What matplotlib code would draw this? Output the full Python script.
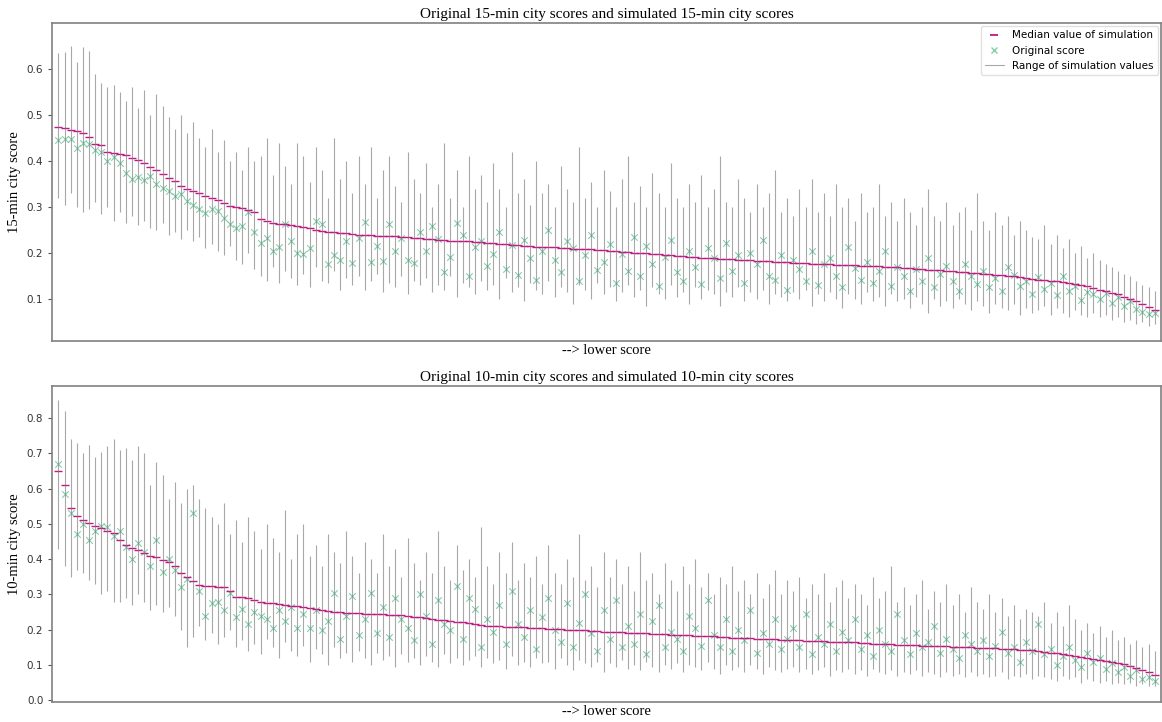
import numpy as np
import matplotlib
matplotlib.use("Agg")
import matplotlib.pyplot as plt
from matplotlib.lines import Line2D

# ---- 15-min panel ----
med15 = [.475,.472,.468,.465,.460,.452,.437,.434,.419,.417,
         .416,.414,.407,.402,.395,.386,.380,.372,.362,.356,
         .346,.340,.334,.330,.324,.320,.315,.309,.302,.300,
         .297,.293,.290,.273,.270,.266,.264,.262,.260,.258,
         .257,.254,.251,.248,.246,.245,.244,.243,.241,.240,
         .240,.239,.238,.237,.236,.236,.235,.234,.233,.232,
         .231,.230,.229,.228,.227,.226,.225,.225,.224,.223,
         .222,.221,.220,.219,.218,.217,.216,.215,.214,.213,
         .212,.212,.211,.210,.209,.209,.208,.208,.207,.206,
         .205,.204,.203,.202,.201,.200,.199,.198,.197,.196,
         .195,.194,.193,.192,.191,.190,.189,.188,.187,.187,
         .186,.185,.184,.184,.183,.182,.182,.181,.180,.180,
         .179,.178,.178,.177,.176,.176,.175,.174,.174,.173,
         .173,.172,.172,.171,.171,.170,.170,.169,.168,.167,
         .166,.165,.164,.163,.162,.161,.160,.159,.158,.157,
         .156,.155,.154,.153,.152,.150,.149,.147,.145,.143,
         .142,.141,.140,.138,.137,.135,.133,.131,.128,.124,
         .120,.117,.114,.110,.104,.100,.095,.088,.082,.076]
orig15 = [.445,.448,.447,.428,.440,.437,.425,.420,.400,.408,
          .395,.375,.360,.365,.358,.368,.350,.342,.335,.325,
          .328,.312,.305,.295,.288,.296,.292,.275,.262,.255,
          .258,.290,.245,.222,.232,.205,.212,.262,.225,.200,
          .198,.210,.270,.262,.175,.195,.185,.225,.178,.232,
          .268,.180,.215,.182,.262,.205,.232,.185,.178,.245,
          .205,.258,.230,.158,.192,.265,.240,.150,.212,.225,
          .172,.198,.245,.165,.218,.152,.228,.190,.142,.205,
          .250,.185,.158,.225,.210,.140,.195,.240,.162,.180,
          .220,.135,.198,.160,.235,.150,.215,.175,.128,.192,
          .228,.158,.140,.205,.170,.132,.210,.188,.145,.222,
          .160,.195,.135,.200,.175,.228,.150,.142,.195,.120,
          .185,.165,.140,.205,.130,.175,.190,.150,.125,.212,
          .168,.142,.180,.135,.160,.205,.128,.170,.150,.118,
          .165,.138,.190,.125,.155,.172,.140,.118,.175,.150,
          .132,.160,.125,.145,.118,.170,.152,.128,.140,.110,
          .148,.122,.135,.108,.150,.118,.128,.098,.115,.110,
          .100,.112,.092,.105,.085,.096,.078,.072,.068,.070]
hi15 = [.635,.637,.650,.615,.648,.640,.590,.570,.560,.565,
        .550,.530,.560,.515,.555,.500,.545,.520,.495,.470,
        .500,.460,.485,.450,.430,.470,.420,.445,.400,.420,
        .380,.430,.400,.410,.450,.370,.440,.390,.350,.440,
        .410,.355,.430,.380,.320,.450,.360,.400,.330,.410,
        .350,.430,.320,.380,.410,.345,.310,.420,.360,.330,
        .395,.300,.350,.440,.320,.380,.300,.410,.340,.370,
        .310,.395,.340,.300,.420,.330,.360,.305,.400,.330,
        .350,.300,.390,.340,.310,.430,.320,.355,.300,.380,
        .335,.300,.360,.410,.310,.345,.300,.375,.330,.300,
        .395,.320,.300,.350,.310,.370,.300,.340,.410,.310,
        .300,.360,.320,.290,.350,.300,.330,.380,.290,.320,
        .280,.340,.300,.360,.290,.330,.280,.350,.300,.320,
        .270,.330,.290,.300,.350,.280,.310,.270,.320,.290,
        .260,.300,.340,.280,.270,.310,.260,.290,.300,.250,
        .330,.270,.250,.290,.260,.280,.240,.270,.250,.235,
        .230,.260,.220,.240,.210,.230,.200,.215,.190,.200,
        .185,.175,.170,.160,.155,.150,.140,.130,.125,.118]
lo15 = [.320,.305,.330,.300,.290,.295,.310,.285,.300,.270,
        .290,.265,.280,.260,.270,.255,.250,.265,.240,.245,
        .230,.250,.225,.235,.210,.220,.205,.195,.215,.185,
        .175,.200,.165,.150,.140,.170,.135,.160,.145,.130,
        .155,.125,.170,.140,.135,.160,.120,.145,.130,.150,
        .120,.140,.155,.115,.135,.125,.150,.110,.140,.130,
        .145,.115,.130,.120,.150,.105,.135,.125,.110,.140,
        .120,.130,.100,.145,.115,.125,.095,.135,.120,.110,
        .140,.105,.125,.115,.090,.130,.120,.100,.135,.110,
        .125,.095,.115,.130,.105,.120,.085,.125,.110,.100,
        .130,.105,.115,.090,.125,.100,.120,.110,.085,.115,
        .105,.125,.095,.115,.100,.120,.090,.110,.105,.095,
        .115,.100,.120,.085,.110,.095,.115,.100,.080,.110,
        .100,.090,.115,.095,.105,.085,.110,.095,.100,.080,
        .105,.090,.070,.100,.085,.095,.080,.100,.090,.075,
        .095,.085,.070,.090,.080,.075,.090,.065,.080,.070,
        .075,.085,.065,.080,.070,.060,.075,.065,.060,.070,
        .060,.065,.055,.060,.050,.055,.045,.050,.042,.045]

# ---- 10-min panel ----
med10 = [.650,.610,.545,.522,.510,.502,.495,.488,.480,.474,
         .455,.440,.432,.425,.418,.410,.405,.398,.392,.380,
         .360,.350,.338,.328,.325,.323,.321,.320,.310,.294,
         .292,.289,.285,.280,.277,.275,.272,.270,.268,.266,
         .265,.262,.259,.256,.253,.250,.249,.248,.247,.247,
         .246,.246,.245,.244,.243,.243,.241,.239,.237,.235,
         .233,.231,.229,.227,.225,.223,.221,.219,.216,.213,
         .212,.211,.210,.209,.208,.208,.207,.206,.205,.204,
         .203,.202,.201,.200,.199,.199,.198,.197,.196,.195,
         .194,.193,.193,.192,.191,.190,.190,.189,.188,.187,
         .186,.185,.185,.184,.183,.182,.181,.181,.180,.179,
         .178,.178,.177,.176,.175,.175,.174,.173,.172,.172,
         .171,.170,.169,.169,.168,.167,.166,.166,.165,.164,
         .164,.163,.162,.161,.161,.160,.159,.158,.157,.157,
         .156,.155,.155,.154,.153,.153,.152,.151,.151,.150,
         .149,.148,.148,.147,.146,.146,.145,.144,.143,.142,
         .141,.138,.135,.133,.130,.128,.126,.123,.120,.116,
         .113,.111,.108,.105,.102,.098,.093,.087,.080,.073]
orig10 = [.670,.585,.530,.470,.500,.455,.480,.495,.490,.465,
          .480,.435,.400,.445,.420,.380,.455,.365,.400,.370,
          .320,.345,.530,.310,.240,.275,.280,.255,.305,.235,
          .260,.215,.250,.240,.230,.205,.255,.225,.265,.205,
          .245,.205,.255,.200,.225,.305,.175,.240,.295,.185,
          .230,.305,.190,.265,.180,.290,.230,.205,.170,.300,
          .240,.160,.285,.215,.200,.325,.175,.290,.260,.150,
          .230,.195,.270,.160,.310,.215,.180,.255,.145,.235,
          .290,.200,.165,.275,.150,.220,.300,.190,.140,.255,
          .175,.285,.150,.210,.160,.245,.130,.225,.270,.150,
          .195,.175,.140,.240,.205,.155,.285,.185,.150,.230,
          .140,.200,.170,.255,.135,.190,.160,.230,.145,.175,
          .205,.150,.245,.130,.180,.160,.215,.140,.195,.170,
          .230,.145,.185,.125,.200,.160,.140,.245,.170,.130,
          .190,.150,.165,.210,.135,.175,.145,.120,.185,.160,
          .140,.170,.125,.155,.195,.135,.150,.110,.165,.140,
          .215,.130,.145,.100,.125,.150,.115,.095,.135,.110,
          .120,.090,.105,.080,.095,.070,.085,.060,.065,.055]
hi10 = [.850,.820,.740,.730,.700,.725,.690,.705,.720,.740,
        .710,.715,.680,.720,.700,.610,.675,.640,.570,.620,
        .560,.600,.610,.570,.545,.520,.500,.560,.470,.510,
        .450,.520,.480,.430,.500,.460,.420,.540,.400,.470,
        .500,.410,.440,.380,.470,.420,.390,.480,.410,.360,
        .450,.400,.360,.470,.380,.430,.350,.460,.390,.340,
        .420,.360,.480,.380,.340,.440,.370,.400,.350,.490,
        .380,.330,.420,.360,.450,.340,.390,.350,.410,.330,
        .440,.360,.330,.400,.350,.470,.340,.380,.320,.420,
        .350,.400,.330,.380,.310,.420,.340,.360,.300,.390,
        .340,.310,.380,.330,.400,.320,.360,.300,.350,.330,
        .380,.310,.340,.300,.360,.290,.330,.370,.300,.340,
        .310,.350,.290,.330,.300,.360,.280,.320,.340,.290,
        .330,.300,.270,.350,.290,.310,.380,.280,.320,.270,
        .300,.340,.260,.310,.280,.330,.270,.300,.250,.320,
        .280,.260,.300,.250,.290,.240,.270,.230,.260,.250,
        .240,.280,.220,.250,.210,.270,.230,.200,.220,.190,
        .210,.180,.200,.170,.180,.160,.170,.150,.160,.140]
lo10 = [.430,.380,.350,.370,.360,.340,.330,.300,.310,.280,
        .280,.290,.270,.300,.280,.255,.270,.250,.265,.240,
        .200,.150,.180,.210,.170,.190,.160,.180,.200,.150,
        .170,.140,.160,.130,.175,.150,.120,.165,.140,.125,
        .155,.110,.145,.130,.100,.150,.120,.135,.110,.140,
        .120,.100,.135,.115,.125,.095,.130,.110,.120,.100,
        .125,.110,.095,.130,.105,.120,.100,.115,.125,.095,
        .120,.105,.115,.090,.125,.100,.110,.095,.120,.105,
        .110,.090,.120,.100,.085,.115,.105,.095,.110,.080,
        .105,.095,.115,.090,.100,.085,.110,.095,.080,.100,
        .090,.105,.080,.100,.095,.085,.110,.090,.075,.100,
        .085,.095,.080,.100,.090,.075,.095,.085,.080,.090,
        .095,.080,.090,.075,.085,.095,.070,.085,.080,.090,
        .075,.085,.070,.090,.080,.075,.085,.070,.080,.075,
        .085,.070,.080,.075,.065,.080,.070,.075,.065,.080,
        .070,.075,.065,.070,.080,.060,.070,.065,.075,.060,
        .070,.065,.060,.055,.070,.060,.065,.050,.060,.055,
        .050,.055,.045,.050,.045,.050,.040,.045,.040,.042]

panels = [
    (med15, orig15, lo15, hi15, "Original 15-min city scores and simulated 15-min city scores",
     "15-min city score", (0.009, 0.70), [0.1, 0.2, 0.3, 0.4, 0.5, 0.6]),
    (med10, orig10, lo10, hi10, "Original 10-min city scores and simulated 10-min city scores",
     "10-min city score", (-0.004, 0.89), [0.0, 0.1, 0.2, 0.3, 0.4, 0.5, 0.6, 0.7, 0.8]),
]

serif = "Liberation Serif"
med_color = "#c71585"
orig_color = "#5cbf90"
range_color = "#7a7a7a"

fig = plt.figure(figsize=(11.62, 7.22), dpi=100)
boxes = [[0.045, 0.528, 0.954, 0.440], [0.045, 0.028, 0.954, 0.437]]

for k, (med, orig, lo, hi, title, ylab, ylim, yt) in enumerate(panels):
    ax = fig.add_axes(boxes[k])
    x = np.arange(len(med))
    ax.vlines(x, lo, hi, colors=range_color, linewidth=0.8, alpha=0.65)
    ax.scatter(x, orig, marker="x", color=orig_color, s=22, linewidths=0.8, alpha=0.75)
    ax.scatter(x, med, marker="_", color=med_color, s=30, linewidths=1.0)
    ax.set_xlim(-1, len(med))
    ax.set_ylim(*ylim)
    ax.set_yticks(yt)
    ax.set_xticks([])
    ax.tick_params(axis="y", labelsize=7.5, labelcolor="#333333", length=3, color="#555555")
    for s in ax.spines.values():
        s.set_color("#808080")
        s.set_linewidth(1.2)
    ax.set_title(title, fontfamily=serif, fontsize=11, pad=4)
    ax.set_ylabel(ylab, fontfamily=serif, fontsize=10.5)
    ax.set_xlabel("--> lower score", fontfamily=serif, fontsize=10.5, labelpad=2)
    if k == 0:
        handles = [
            Line2D([], [], marker="_", linestyle="none", color=med_color, markersize=6, markeredgewidth=1.3),
            Line2D([], [], marker="x", linestyle="none", color=orig_color, markersize=5, alpha=0.75),
            Line2D([], [], color=range_color, linewidth=0.8, alpha=0.65),
        ]
        ax.legend(handles, ["Median value of simulation", "Original score", "Range of simulation values"],
                  loc="upper right", fontsize=7.5, handlelength=1.8, borderaxespad=0.3,
                  framealpha=0.9, edgecolor="#dddddd")

fig.savefig("out.png", dpi=100)
